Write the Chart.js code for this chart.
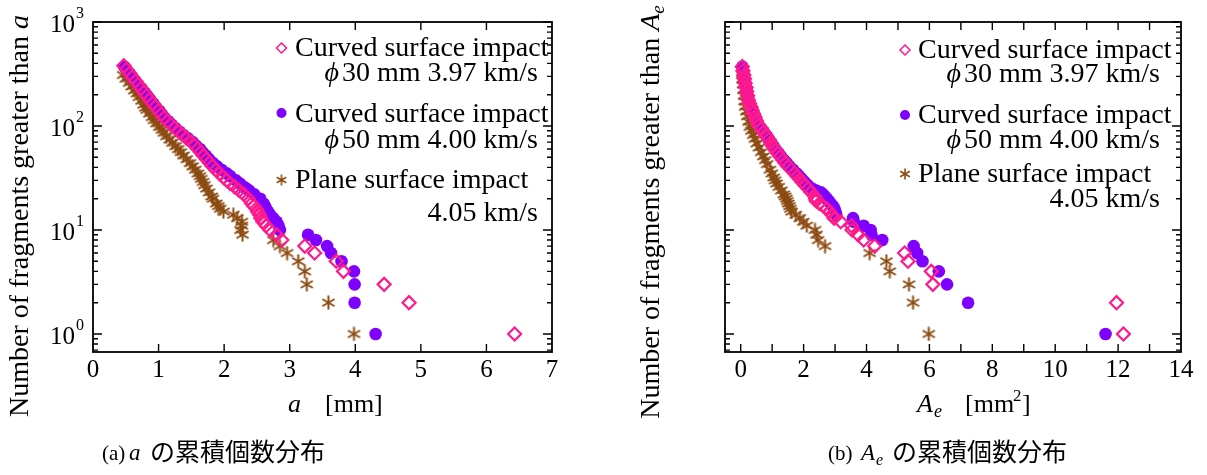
<!DOCTYPE html>
<html><head><meta charset="utf-8">
<script src="https://cdn.jsdelivr.net/npm/chart.js@4.4.1/dist/chart.umd.min.js"></script>
<style>
html,body{margin:0;padding:0;background:#fff;width:1207px;height:475px;overflow:hidden}
#c1{position:absolute;left:0;top:0}
#c2{position:absolute;left:600px;top:0}
</style></head><body>
<canvas id="c1" width="600" height="475"></canvas>
<canvas id="c2" width="607" height="475"></canvas>
<script>
// ---------- (a) cumulative number vs a [mm] ----------
const aPhi30X = [0.47,0.51,0.56,0.60,0.65,0.69,0.73,0.78,0.82,0.86,0.91,0.95,1.00,1.04,1.08,1.14,1.19,1.25,1.31,1.37,1.43,1.50,1.55,1.60,1.64,1.68,1.73,1.78,1.82,1.87,1.93,1.99,2.04,2.09,2.16,2.23,2.30,2.37,2.42,2.45,2.49,2.51,2.54,2.56,2.59,2.64,2.70,2.80,2.88,3.23,3.38,3.71,3.82,4.44,4.82,6.43];
const aPhi30N = [380,350,320,295,270,250,230,210,195,180,165,152,140,130,120,111,103,95,88,82,76,70,65,60,56,52,48,44,41,38,35,32,30,28,26,24,22,20,18,17,16,15,14,13,12,11,10,9,8,7,6,5,4,3,2,1];
const aPhi50X = [0.48,0.51,0.56,0.60,0.65,0.69,0.74,0.79,0.83,0.87,0.92,0.96,1.01,1.05,1.09,1.15,1.20,1.26,1.32,1.38,1.45,1.52,1.57,1.63,1.67,1.72,1.77,1.83,1.89,1.96,2.04,2.09,2.18,2.24,2.30,2.34,2.38,2.46,2.55,2.60,2.62,2.64,2.67,2.70,2.75,2.80,2.83,2.85,3.28,3.40,3.57,3.63,3.79,3.98,3.99,3.99,4.31];
const aPhi50N = [370,350,320,295,270,250,230,210,195,180,165,152,140,130,120,111,103,95,88,82,76,70,65,60,56,52,48,44,41,38,35,33,30,28,26,25,24,22,20,18,17,16,15,14,13,12,11,10,9,8,7,6,5,4,3,2,1];
const aPlaneX = [0.46,0.50,0.55,0.59,0.63,0.67,0.70,0.74,0.77,0.80,0.82,0.86,0.90,0.93,0.97,1.01,1.05,1.08,1.12,1.17,1.21,1.26,1.30,1.34,1.38,1.43,1.48,1.52,1.56,1.60,1.63,1.65,1.68,1.70,1.73,1.77,1.81,1.83,1.88,1.91,1.94,1.99,2.14,2.20,2.27,2.27,2.25,2.28,2.75,2.85,2.96,3.13,3.23,3.26,3.59,3.98];
const aPlaneN = [309,285,260,240,220,206,190,175,160,150,143,132,122,114,106,98,92,86,80,74,69,64,60,56,52,48,44,41,38,35,33,31,29,27,25,23,21,20,18,17,16,15,14,13,12,11,10,9,8,7,6,5,4,3,2,1];
const aTicks = [0,1,2,3,4,5,6,7];

// ---------- (b) cumulative number vs Ae [mm^2] ----------
const aePhi30X = [0.05,0.07,0.10,0.12,0.14,0.17,0.19,0.22,0.24,0.28,0.33,0.36,0.40,0.45,0.50,0.56,0.64,0.72,0.79,0.83,0.89,0.95,1.02,1.09,1.17,1.25,1.34,1.41,1.50,1.61,1.72,1.79,1.87,1.95,2.04,2.14,2.24,2.36,2.38,2.40,2.50,2.62,2.74,2.82,2.90,2.97,3.18,3.52,3.54,3.73,3.91,4.26,5.21,5.32,6.06,6.11,11.95,12.17];
const aePhi30N = [372,340,310,285,258,235,215,195,178,165,152,142,132,122,112,102,95,88,82,79,74,69,64,59,55,51,47,44,41,38,35,33,31,29,27,25,23,21,20,19,18,17,16,15,14,13,12,11,10,9,8,7,6,5,4,3,2,1];
const aePhi50X = [0.05,0.07,0.10,0.12,0.15,0.17,0.20,0.22,0.25,0.29,0.33,0.37,0.41,0.46,0.51,0.57,0.65,0.73,0.80,0.84,0.90,0.97,1.04,1.11,1.20,1.28,1.38,1.46,1.55,1.66,1.78,1.85,1.94,2.03,2.13,2.27,2.40,2.55,2.62,2.68,2.74,2.80,2.86,2.93,2.98,3.01,3.04,3.57,3.60,3.91,4.13,4.16,4.50,5.50,5.61,5.78,6.30,6.56,7.23,11.60];
const aePhi50N = [372,340,310,285,258,235,215,195,178,165,152,142,132,122,112,102,95,88,82,79,74,69,64,59,55,51,47,44,41,38,35,33,31,29,27,25,24,23,22,21,20,19,18,17,16,15,14,13,12,11,10,9,8,7,6,5,4,3,2,1];
const aePlaneX = [0.05,0.06,0.08,0.09,0.11,0.13,0.14,0.18,0.21,0.25,0.29,0.34,0.40,0.45,0.51,0.58,0.65,0.72,0.78,0.84,0.93,0.99,1.05,1.09,1.14,1.21,1.29,1.37,1.41,1.45,1.48,1.51,1.55,1.58,1.62,1.75,1.88,1.99,2.10,2.36,2.41,2.46,2.68,4.10,4.63,4.74,5.35,5.48,5.98];
const aePlaneN = [309,280,250,222,195,172,153,138,124,110,98,90,82,75,68,62,56,51,47,43,38,35,32,30,28,26,24,22,21,20,19,18,17,16,15,14,13,12,11,10,9,8,7,6,5,4,3,2,1];
const aeTicks = [0,1,2,3,4,5,6,7,8,9,10,11,12,13,14];

const yDecades = [0,1,2,3];
const seriesLabels = ['Curved surface impact', 'Curved surface impact', 'Plane surface impact'];
const seriesSub = ['30 mm 3.97 km/s', '50 mm 4.00 km/s', '4.05 km/s'];

const PINK = '#ff1a8c', PURPLE = '#8000ff', BROWN = '#8b4a10';
const SERIF = '"Liberation Serif","Times New Roman",serif';
const CJK = '"Noto Sans CJK JP","Noto Sans CJK SC",sans-serif';

function makeStar(size, color, lw) {
  const c = document.createElement('canvas');
  c.width = c.height = size;
  const g = c.getContext('2d');
  g.strokeStyle = color; g.lineWidth = lw; g.lineCap = 'butt';
  const r = size / 2 - 0.5, cx = size / 2, cy = size / 2;
  for (const a of [90, 30, 150]) {
    const t = a * Math.PI / 180;
    g.beginPath();
    g.moveTo(cx - r * Math.cos(t), cy - r * Math.sin(t));
    g.lineTo(cx + r * Math.cos(t), cy + r * Math.sin(t));
    g.stroke();
  }
  return c;
}
const starImg = makeStar(15, BROWN, 2);
const starLeg = makeStar(12, BROWN, 1.6);

const pts = (xs, ns) => xs.map((x, i) => ({x: x, y: ns[i]}));

function drawSegs(ctx, segs, x, y, measureOnly) {
  let cx = x;
  for (const s of segs) {
    ctx.font = s.font;
    if (!measureOnly) ctx.fillText(s.t, cx, y + (s.dy || 0));
    cx += ctx.measureText(s.t).width + (s.gap || 0);
  }
  return cx;
}
function segWidth(ctx, segs) { return drawSegs(ctx, segs, 0, 0, true); }

function drawDiamond(ctx, x, y, r) {
  ctx.save(); ctx.strokeStyle = PINK; ctx.lineWidth = 1.5;
  ctx.beginPath(); ctx.moveTo(x, y - r); ctx.lineTo(x + r, y); ctx.lineTo(x, y + r); ctx.lineTo(x - r, y); ctx.closePath(); ctx.stroke();
  ctx.restore();
}
function drawDot(ctx, x, y, r) {
  ctx.save(); ctx.fillStyle = PURPLE; ctx.beginPath(); ctx.arc(x, y, r, 0, Math.PI * 2); ctx.fill(); ctx.restore();
}

function decoPlugin(cfg) {
  return {
    id: 'deco',
    afterDraw(chart) {
      const ctx = chart.ctx, a = chart.chartArea, xs = chart.scales.x, ys = chart.scales.y;
      const ox = cfg.offset;
      ctx.save();
      ctx.strokeStyle = '#000';
      ctx.lineWidth = 1.8;
      ctx.strokeRect(a.left, a.top, a.right - a.left, a.bottom - a.top);
      ctx.lineWidth = 1.4;
      ctx.beginPath();
      for (const t of xs.ticks) {
        const px = xs.getPixelForValue(t.value);
        if (px < a.left + 1 || px > a.right - 1) continue;
        ctx.moveTo(px, a.bottom); ctx.lineTo(px, a.bottom - 8);
        ctx.moveTo(px, a.top); ctx.lineTo(px, a.top + 8);
      }
      for (let e = -1; e <= 3; e++) {
        for (let m = 1; m <= 9; m++) {
          const v = m * Math.pow(10, e);
          if (v < ys.min || v > ys.max) continue;
          const py = ys.getPixelForValue(v);
          const L = m === 1 ? 9 : 5;
          ctx.moveTo(a.left, py); ctx.lineTo(a.left + L, py);
          ctx.moveTo(a.right, py); ctx.lineTo(a.right - L, py);
        }
      }
      ctx.stroke();
      ctx.fillStyle = '#000';
      ctx.textBaseline = 'alphabetic';
      for (const e of yDecades) {
        const py = ys.getPixelForValue(Math.pow(10, e));
        ctx.font = '25px ' + SERIF; ctx.textAlign = 'right';
        ctx.fillText('10', cfg.yLabRight, py + 10);
        ctx.font = '16px ' + SERIF; ctx.textAlign = 'left';
        ctx.fillText(String(e), cfg.yLabRight + 1, py - 4);
      }
      ctx.textAlign = 'left';
      ctx.save();
      ctx.translate(cfg.yTitleX - ox, cfg.yTitleY);
      ctx.rotate(-Math.PI / 2);
      const w = segWidth(ctx, cfg.yTitleSegs);
      drawSegs(ctx, cfg.yTitleSegs, -w / 2, 0);
      ctx.restore();
      for (const p of cfg.xTitle) { ctx.font = p.font; ctx.fillText(p.t, p.x - ox, p.y); }
      for (const p of cfg.caption) { ctx.font = p.font; ctx.fillText(p.t, p.x - ox, p.y); }
      const L = cfg.legend;
      drawDiamond(ctx, L.mx - ox, L.my[0], 5);
      drawDot(ctx, L.mx - ox, L.my[1], 5);
      ctx.drawImage(starLeg, L.mx - ox - 6, L.my[2] - 6);
      const f28 = '28px ' + SERIF, f28i = 'italic 28px ' + SERIF;
      for (let i = 0; i < 3; i++) {
        ctx.font = f28; ctx.textAlign = 'left';
        ctx.fillText(seriesLabels[i], L.tx - ox, L.b1[i]);
        const segs = i < 2 ? [{t: '\u03d5', font: f28i, gap: 3}, {t: seriesSub[i], font: f28}] : [{t: seriesSub[i], font: f28}];
        const sw = segWidth(ctx, segs);
        drawSegs(ctx, segs, L.rx - ox - sw, L.b2[i]);
      }
      ctx.restore();
    }
  };
}

function makeChart(canvasId, ticks, xMin, xMax, yWidth, padRight, evenOnly, data, cfg) {
  new Chart(document.getElementById(canvasId), {
    type: 'scatter',
    data: {
      datasets: [
        {label: 'phi30', data: pts(data[0][0], data[0][1]), pointStyle: 'rectRot', pointRadius: 6.5, pointBorderWidth: 2.2, pointBorderColor: PINK, pointBackgroundColor: 'rgba(0,0,0,0)'},
        {label: 'phi50', data: pts(data[1][0], data[1][1]), pointStyle: 'circle', pointRadius: 6.3, pointBorderWidth: 0, pointBackgroundColor: PURPLE, pointBorderColor: PURPLE},
        {label: 'plane', data: pts(data[2][0], data[2][1]), pointStyle: starImg, pointRadius: 7}
      ]
    },
    options: {
      responsive: false, animation: false, devicePixelRatio: 1,
      layout: {padding: {left: 0, right: padRight, top: 22, bottom: 0}},
      plugins: {legend: {display: false}, tooltip: {enabled: false}},
      scales: {
        x: {
          type: 'linear', min: xMin, max: xMax,
          grid: {display: false, drawTicks: false}, border: {display: false},
          afterBuildTicks: s => { s.ticks = ticks.map(v => ({value: v})); },
          ticks: {
            autoSkip: false, maxRotation: 0, padding: 3, color: '#000',
            font: {family: SERIF, size: 25},
            callback: v => (evenOnly && v % 2 !== 0) ? '' : String(v)
          },
          afterFit: s => { s.height = 123; }
        },
        y: {
          type: 'logarithmic', min: 0.671, max: 1000,
          grid: {display: false, drawTicks: false}, border: {display: false},
          ticks: {display: false},
          afterFit: s => { s.width = yWidth; }
        }
      }
    },
    plugins: [decoPlugin(cfg)]
  });
}

const f26 = '26px ' + SERIF, f26i = 'italic 26px ' + SERIF;

makeChart('c1', aTicks, 0, 7, 93, 48, false,
  [[aPhi30X, aPhi30N], [aPhi50X, aPhi50N], [aPlaneX, aPlaneN]],
  {
    offset: 0, yLabRight: 75,
    yTitleX: 28, yTitleY: 216,
    yTitleSegs: [{t: 'Number of fragments greater than ', font: '28px ' + SERIF}, {t: 'a', font: 'italic 28px ' + SERIF}],
    xTitle: [{t: 'a', font: f26i, x: 288, y: 412}, {t: '[mm]', font: f26, x: 325, y: 412}],
    caption: [
      {t: '(a)', font: '21px ' + SERIF, x: 102, y: 460},
      {t: 'a', font: 'italic 23px ' + SERIF, x: 129, y: 460},
      {t: 'の累積個数分布', font: '25px ' + CJK, x: 150, y: 461}
    ],
    legend: {mx: 281.5, my: [48, 113, 180], tx: 295, rx: 538, b1: [56, 122, 188], b2: [81, 148, 221]}
  });

makeChart('c2', aeTicks, -0.5, 14, 125, 26, true,
  [[aePhi30X, aePhi30N], [aePhi50X, aePhi50N], [aePlaneX, aePlaneN]],
  {
    offset: 600, yLabRight: 712,
    yTitleX: 659, yTitleY: 212,
    yTitleSegs: [{t: 'Number of fragments greater than ', font: '28px ' + SERIF}, {t: 'A', font: 'italic 28px ' + SERIF}, {t: 'e', font: 'italic 19px ' + SERIF, dy: 5}],
    xTitle: [
      {t: 'A', font: f26i, x: 917, y: 412}, {t: 'e', font: 'italic 18px ' + SERIF, x: 934, y: 417},
      {t: '[mm', font: f26, x: 965, y: 412}, {t: '2', font: '17px ' + SERIF, x: 1013, y: 401}, {t: ']', font: f26, x: 1022, y: 412}
    ],
    caption: [
      {t: '(b)', font: '21px ' + SERIF, x: 828, y: 460},
      {t: 'A', font: 'italic 23px ' + SERIF, x: 861, y: 460},
      {t: 'e', font: 'italic 16px ' + SERIF, x: 876, y: 465},
      {t: 'の累積個数分布', font: '25px ' + CJK, x: 892, y: 461}
    ],
    legend: {mx: 905, my: [50, 115, 174], tx: 918, rx: 1160, b1: [58, 123, 182], b2: [82, 148, 207]}
  });
</script>
</body></html>
